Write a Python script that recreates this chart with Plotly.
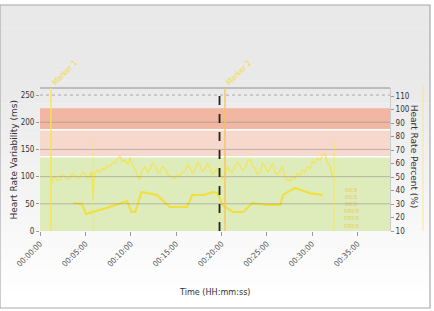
import plotly.graph_objects as go

# ---------------- data ----------------
x_ticks = [0, 5, 10, 15, 20, 25, 30, 35]
x_ticklabels = ["00:00:00", "00:05:00", "00:10:00", "00:15:00", "00:20:00",
                "00:25:00", "00:30:00", "00:35:00"]
y_left_ticks = [0, 50, 100, 150, 200, 250]
y_right_ticks = [10, 20, 30, 40, 50, 60, 70, 80, 90, 100, 110]

# heart rate percent (smooth line, right axis)
hr_time = [3.64, 4.63, 5.07, 6.6, 8.05, 9.6, 10.1, 10.5, 11.2, 12.9, 14.3, 16.2,
           16.8, 18.0, 19.1, 19.6, 20.1, 21.3, 22.4, 23.4, 25.0, 26.5, 26.8,
           28.1, 28.7, 29.8, 31.2]
hr_pct = [30.7, 30.0, 22.6, 25.6, 28.5, 32.2, 24.0, 24.0, 38.9, 36.7, 27.8, 27.8,
          36.7, 36.7, 38.9, 38.0, 29.3, 24.0, 24.0, 30.7, 29.3, 29.3, 36.7,
          41.9, 40.4, 38.0, 36.7]

# heart rate variability (noisy line, left axis)
hrv_time = [1.3, 1.45, 1.65, 1.9, 2.2, 2.45, 2.75, 3.0, 3.3, 3.6, 3.9, 4.15,
            4.4, 4.7, 5.0, 5.25, 5.5, 5.7, 5.85, 6.0, 6.3, 6.6, 6.9, 7.2, 7.45,
            7.7, 8.0, 8.3, 8.55, 8.8, 9.1, 9.4, 9.7, 9.9, 10.1, 10.35, 10.6,
            10.8, 11.0, 11.3, 11.6, 11.85, 12.1, 12.4, 12.7, 12.95, 13.2, 13.5,
            13.8, 14.05, 14.3, 14.6, 14.9, 15.15, 15.4, 15.7, 16.0, 16.25, 16.5,
            16.8, 17.1, 17.35, 17.6, 17.9, 18.2, 18.45, 18.7, 19.0, 19.3, 19.55,
            19.8, 20.1, 20.4, 20.65, 20.9, 21.2, 21.5, 21.75, 22.0, 22.3, 22.6,
            22.9, 23.2, 23.45, 23.7, 24.0, 24.3, 24.55, 24.8, 25.1, 25.4, 25.65,
            25.9, 26.2, 26.5, 26.75, 27.0, 27.3, 27.6, 27.85, 28.1, 28.4, 28.7,
            28.95, 29.2, 29.5, 29.8, 30.05, 30.3, 30.6, 30.9, 31.15, 31.4, 31.7,
            32.0, 32.2, 32.4]
hrv_ms = [88, 98, 100, 92, 95, 104, 100, 94, 97, 106, 102, 96, 99, 108, 104,
          97, 100, 110, 57, 105, 112, 108, 116, 112, 120, 118, 126, 125, 132,
          138, 128, 130, 122, 135, 125, 118, 110, 100, 95, 112, 118, 108, 113,
          124, 120, 110, 108, 118, 115, 104, 102, 98, 96, 104, 100, 108, 110,
          121, 118, 106, 112, 126, 122, 110, 114, 124, 118, 104, 110, 114, 107,
          96, 102, 118, 112, 108, 118, 126, 122, 112, 116, 128, 132, 120, 115,
          104, 110, 124, 120, 108, 116, 125, 108, 104, 112, 118, 100, 94, 92,
          100, 96, 106, 102, 112, 108, 118, 115, 128, 125, 134, 130, 140, 143,
          126, 118, 104, 98]

# target zones in heart-rate percent
zone_low = [10, 65, 85]
zone_high = [65, 85, 101]
zone_colors = ["#deebba", "#f6d8cd", "#f1b7a3"]

grid_ms = [50, 100, 150, 200]
dotted_grid_ms = [250]

markers_time = [1.2, 20.4]
markers_text = ["Marker 1", "Marker 2"]
markers_color = ["#f5e356", "#f6c35a"]
faint_markers_time = [5.85, 32.45]
cursor_time = [19.8]

tag_time = [34.3, 34.3, 34.3, 34.3, 34.3, 34.3]
tag_pct = [40, 35, 30, 24.5, 19, 13.5]
tag_text = ["00:3", "00:3", "00:3", "100:3", "100:3", "100:3"]

# ---------------- figure ----------------
fig = go.Figure()

fig.add_trace(go.Scatter(x=hrv_time, y=hrv_ms, mode="lines",
                         line=dict(color="rgba(245,228,60,0.8)", width=1.2),
                         yaxis="y", showlegend=False, hoverinfo="skip"))
fig.add_trace(go.Scatter(x=hr_time, y=hr_pct, mode="lines",
                         line=dict(color="#f3df3a", width=2),
                         yaxis="y2", showlegend=False, hoverinfo="skip"))
fig.add_trace(go.Scatter(x=tag_time, y=tag_pct, mode="text", text=tag_text,
                         textfont=dict(size=6, color="#efc440"),
                         yaxis="y2", showlegend=False, hoverinfo="skip"))

shapes = []
# background gradient (paper coords)
top_p, bot_p = 5, 308
n = 40
plot_top, plot_bot = 88, 231
for i in range(n):
    p0 = top_p + (bot_p - top_p) * i / n
    p1 = top_p + (bot_p - top_p) * (i + 1) / n
    t = min(1.0, max(0.0, (p0 - 70) / 220))
    g = int(233 + (255 - 233) * t)
    shapes.append(dict(type="rect", xref="paper", yref="paper",
                       x0=-40 / 350, x1=390 / 350,
                       y0=(plot_bot - p1) / 143, y1=(plot_bot - p0) / 143 + 0.002,
                       fillcolor=f"rgb({g},{g},{g})", line=dict(width=0),
                       layer="below"))
shapes.append(dict(type="rect", xref="paper", yref="paper",
                   x0=-40 / 350, x1=390 / 350,
                   y0=(plot_bot - bot_p) / 143, y1=(plot_bot - top_p) / 143,
                   fillcolor="rgba(0,0,0,0)", line=dict(color="#aaaaaa", width=1.2),
                   layer="below"))
# zones
for lo, hi, c in zip(zone_low, zone_high, zone_colors):
    shapes.append(dict(type="rect", xref="paper", yref="y2", x0=0, x1=1,
                       y0=lo, y1=hi, fillcolor=c, line=dict(width=0),
                       layer="below"))
# separators between zones
for hi in zone_high[:2]:
    shapes.append(dict(type="line", xref="paper", yref="y2", x0=0, x1=1,
                       y0=hi, y1=hi, line=dict(color="#ffffff", width=1.5),
                       layer="below"))
# grid
for g in grid_ms:
    shapes.append(dict(type="line", xref="paper", yref="y", x0=0, x1=1,
                       y0=g, y1=g, line=dict(color="rgba(140,140,140,0.55)", width=1),
                       layer="above"))
for g in dotted_grid_ms:
    shapes.append(dict(type="line", xref="paper", yref="y", x0=0, x1=1,
                       y0=g, y1=g, line=dict(color="#aaaaaa", width=1, dash="dot"),
                       layer="below"))
# plot frame top
shapes.append(dict(type="line", xref="paper", yref="paper", x0=0, x1=1, y0=1, y1=1,
                   line=dict(color="#bdbdbd", width=2), layer="below"))
# faint marker lines
for t in faint_markers_time:
    shapes.append(dict(type="line", xref="x", yref="paper", x0=t, x1=t, y0=0, y1=0.63,
                       line=dict(color="rgba(245,228,80,0.6)", width=1), layer="above"))
# marker lines
for t, c in zip(markers_time, markers_color):
    shapes.append(dict(type="line", xref="x", yref="paper", x0=t, x1=t, y0=0, y1=1.0,
                       line=dict(color=c, width=1.3), layer="above"))
# cursor
for t in cursor_time:
    shapes.append(dict(type="line", xref="x", yref="paper", x0=t, x1=t, y0=0, y1=1.0,
                       line=dict(color="#222222", width=1.8, dash="dash"), layer="above"))
# far right faint line
shapes.append(dict(type="line", xref="paper", yref="paper", x0=383 / 350, x1=383 / 350,
                   y0=0.0, y1=1.02, line=dict(color="rgba(245,230,120,0.5)", width=1.5),
                   layer="below"))

annotations = []
for t, txt in zip(markers_time, markers_text):
    annotations.append(dict(x=t, y=1.0, xref="x", yref="paper", text=txt,
                            showarrow=False, textangle=-45, xanchor="left",
                            yanchor="bottom", xshift=-3, yshift=-2,
                            font=dict(size=8, color="#f2dc3c",
                                      family="DejaVu Sans Condensed")))
annotations.append(dict(x=-27 / 350, y=0.5, xref="paper", yref="paper",
                        xanchor="center", yanchor="middle",
                        text="Heart Rate Variability (ms)", showarrow=False,
                        textangle=-90, font=dict(size=9, color="#333333",
                                                 family="DejaVu Sans")))
annotations.append(dict(x=374 / 350, y=0.52, xref="paper", yref="paper",
                        xanchor="center", yanchor="middle",
                        text="Heart Rate Percent (%)", showarrow=False,
                        textangle=90, font=dict(size=9, color="#333333",
                                                family="DejaVu Sans")))
annotations.append(dict(x=0.5, y=(231 - 292) / 143, xref="paper", yref="paper",
                        xanchor="center", yanchor="middle",
                        text="Time (HH:mm:ss)", showarrow=False,
                        font=dict(size=9, color="#333333",
                                  family="DejaVu Sans Condensed")))

fig.update_layout(
    width=434, height=311,
    margin=dict(l=40, r=44, t=88, b=80, pad=0),
    paper_bgcolor="#ffffff",
    plot_bgcolor="rgba(0,0,0,0)",
    shapes=shapes,
    annotations=annotations,
    xaxis=dict(range=[0, 38.6], tickvals=x_ticks, ticktext=x_ticklabels,
               tickangle=-45, showgrid=False, zeroline=False,
               ticks="outside", ticklen=4, tickcolor="#999999",
               tickfont=dict(size=8, color="#555555", family="DejaVu Sans Condensed"),
               showline=False),
    yaxis=dict(range=[0, 263], tickvals=y_left_ticks, showgrid=False, zeroline=False,
               ticks="outside", ticklen=3, tickcolor="#999999",
               tickfont=dict(size=8, color="#333333", family="DejaVu Sans Condensed"),
               showline=False),
    yaxis2=dict(range=[10, 116], tickvals=y_right_ticks, overlaying="y", side="right",
                showgrid=False, zeroline=False, ticks="outside", ticklen=3,
                tickcolor="#999999",
                tickfont=dict(size=8, color="#333333", family="DejaVu Sans Condensed"),
                showline=True, linecolor="#cccccc"),
    showlegend=False,
)

fig.write_html("out.html")
